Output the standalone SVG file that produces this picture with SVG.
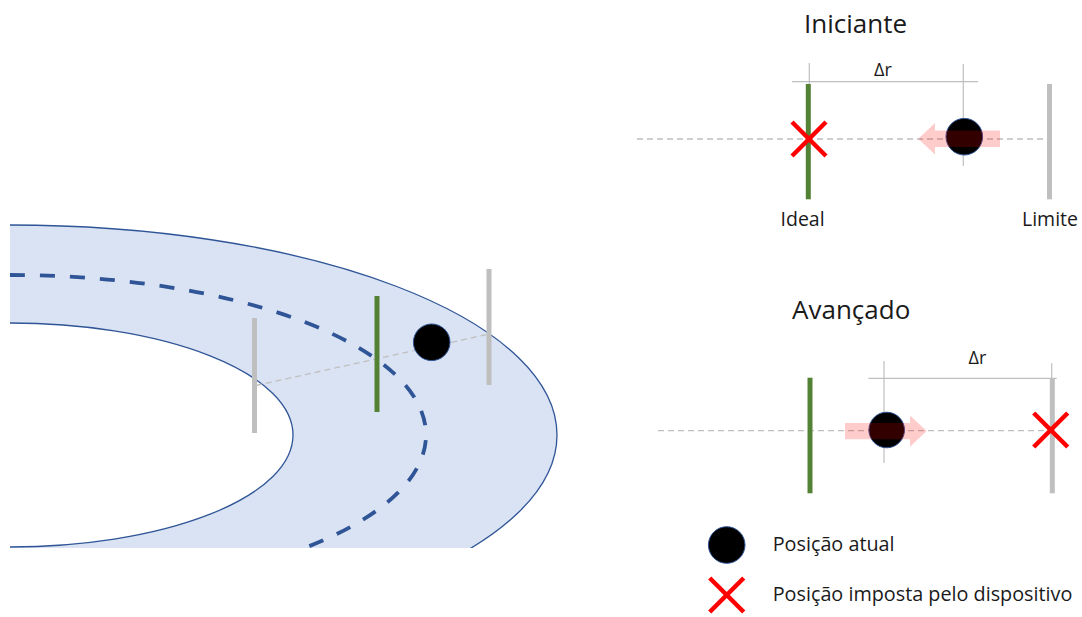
<svg xmlns="http://www.w3.org/2000/svg" width="1082" height="617" viewBox="0 0 1082 617">
  <style>
    .lbl { font-family: "Open Sans", "Noto Sans", "Liberation Sans", sans-serif; fill: #1a1a1a; }
    .title { font-size: 26px; }
    .small { font-size: 19.5px; }
    .legend-txt { font-size: 19.8px; }
    .delta { font-size: 18px; }
    .bar-gray { stroke: #BFBFBF; stroke-width: 5; }
    .bar-green { stroke: #548235; stroke-width: 5; }
    .thin { stroke: #BFBFBF; stroke-width: 1.2; fill: none; }
    .axis { stroke: #BFBFBF; stroke-width: 1.3; stroke-dasharray: 6 4; fill: none; }
    .edge { stroke: #2F5597; stroke-width: 1.3; fill: none; }
    .track { stroke: #2F5597; stroke-width: 3.8; stroke-dasharray: 15 15; fill: none; }
    .pos { fill: #000; stroke: #2F5597; stroke-width: 1; }
    .cross { stroke: #FF0000; stroke-width: 4.5; stroke-linecap: butt; }
    .push { fill: #FF0000; fill-opacity: 0.2; }
  </style>
  <defs>
    <clipPath id="bandClip">
      <rect x="10" y="0" width="1000" height="548"/>
    </clipPath>
    <g id="xmark">
      <line class="cross" x1="-17" y1="-17" x2="17" y2="17"/>
      <line class="cross" x1="-17" y1="17" x2="17" y2="-17"/>
    </g>
  </defs>

  <rect width="1082" height="617" fill="#fff"/>

  <!-- curved lane with its centre line -->
  <g id="lane" clip-path="url(#bandClip)">
    <path fill="#DAE3F3" fill-rule="evenodd"
          d="M-537,435 A547,210 0 1 1 557,435 A547,210 0 1 1 -537,435 Z
             M-273,435 A283,112 0 1 1 293,435 A283,112 0 1 1 -273,435 Z"/>
    <path class="edge" d="M10,225 A547,210 0 0 1 557,435 A547,210 0 0 1 10,645"/>
    <path class="edge" d="M10,323 A283,112 0 0 1 293,435 A283,112 0 0 1 10,547"/>
    <path class="track" d="M10,275 A416,160 0 0 1 426,435 A416,160 0 0 1 10,595"/>
  </g>

  <g id="lane-markers">
    <line class="axis" x1="256" y1="385.5" x2="489" y2="334"/>
    <line class="bar-gray" x1="254.5" y1="318" x2="254.5" y2="433"/>
    <line class="bar-green" x1="377" y1="296" x2="377" y2="412"/>
    <line class="bar-gray" x1="489" y1="269" x2="489" y2="385"/>
    <circle class="pos" cx="431.7" cy="342.3" r="18.3"/>
  </g>

  <!-- Iniciante -->
  <g id="panel-iniciante">
    <text class="lbl title" x="804" y="33">Iniciante</text>
    <line class="axis" x1="637" y1="139" x2="1048" y2="139"/>
    <line class="thin" x1="809.3" y1="63" x2="809.3" y2="139"/>
    <line class="thin" x1="963.3" y1="64" x2="963.3" y2="166"/>
    <line class="thin" x1="792" y1="81.7" x2="978" y2="81.7"/>
    <text class="lbl delta" x="883" y="75.7" text-anchor="middle">Δr</text>
    <line class="bar-green" x1="808.3" y1="84" x2="808.3" y2="199.3"/>
    <line class="bar-gray" x1="1049.5" y1="84" x2="1049.5" y2="199.3"/>
    <use href="#xmark" x="809" y="139"/>
    <circle class="pos" cx="964.3" cy="136.7" r="18.3"/>
    <path class="push" d="M1000,130.5 L935,130.5 L935,123 L918.3,138.8 L935,154.5 L935,147 L1000,147 Z"/>
    <text class="lbl small" x="780.5" y="225.7">Ideal</text>
    <text class="lbl small" x="1022" y="225.7">Limite</text>
  </g>

  <!-- Avançado -->
  <g id="panel-avancado">
    <text class="lbl title" x="792" y="319.3">Avançado</text>
    <line class="axis" x1="658" y1="430.7" x2="1050" y2="430.7"/>
    <line class="thin" x1="884" y1="361" x2="884" y2="463"/>
    <line class="thin" x1="1051.7" y1="363.3" x2="1051.7" y2="378"/>
    <line class="thin" x1="868.3" y1="378.3" x2="1056.7" y2="378.3"/>
    <text class="lbl delta" x="977.5" y="364" text-anchor="middle">Δr</text>
    <line class="bar-green" x1="810" y1="377.7" x2="810" y2="493.3"/>
    <line class="bar-gray" x1="1052.3" y1="378" x2="1052.3" y2="493.3"/>
    <use href="#xmark" x="1050.7" y="430"/>
    <circle class="pos" cx="886.7" cy="430" r="17.8"/>
    <path class="push" d="M845,423 L910,423 L910,415.5 L926.7,431 L910,446.7 L910,439.3 L845,439.3 Z"/>
  </g>

  <!-- legend -->
  <g id="legend">
    <circle class="pos" cx="726.7" cy="545" r="18.3"/>
    <text class="lbl legend-txt" x="772.7" y="550.7">Posição atual</text>
    <use href="#xmark" x="726.7" y="595"/>
    <text class="lbl legend-txt" x="772.7" y="601">Posição imposta pelo dispositivo</text>
  </g>
</svg>
